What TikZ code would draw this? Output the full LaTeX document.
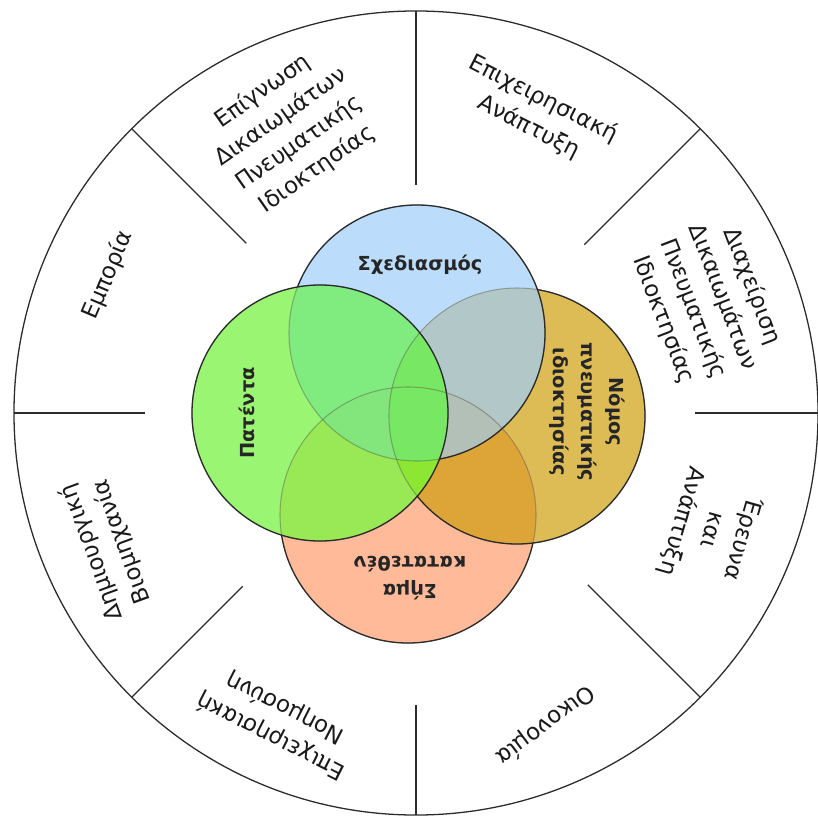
\documentclass[tikz,border=0pt]{standalone}
\usepackage{fontspec}
\setmainfont{DejaVu Sans}
\usetikzlibrary{calc}
% region colours of the four-set diagram
\definecolor{cBlue}{HTML}{BBDDFB}
\definecolor{cGreen}{HTML}{9AF572}
\definecolor{cGold}{HTML}{DDBB55}
\definecolor{cSalmon}{HTML}{FFBB99}
\definecolor{cBG}{HTML}{80EC80}
\definecolor{cBO}{HTML}{B2C8C8}
\definecolor{cGS}{HTML}{99E855}
\definecolor{cOS}{HTML}{DDA537}
\definecolor{cGO}{HTML}{8CE25A}
\definecolor{cBGO}{HTML}{78E864}
\definecolor{cBGS}{HTML}{82E67C}
\definecolor{cBOS}{HTML}{B2C0B8}
\definecolor{cGOS}{HTML}{8CE632}
\definecolor{cAll}{HTML}{78E864}
\definecolor{cLine}{HTML}{2B2B2B}
\begin{document}
\begin{tikzpicture}[x=0.03cm,y=-0.03cm,
  ring/.style={draw=cLine, line width=1.1pt},
  setedge/.style={draw=cLine, line width=1.1pt},
  setseam/.style={draw=black!70, line width=0.9pt, draw opacity=0.4},
  outerlabel/.style={align=center, inner sep=0pt, text=black!90,
    font=\fontsize{19.5}{27}\selectfont},
  innerlabel/.style={align=center, inner sep=0pt, text=black!85,
    font=\bfseries\fontsize{16.5}{24}\selectfont}]
\useasboundingbox (0,0) rectangle (817,821);
\def\vr{3.84cm}
% clockwise frame; with a counter-clockwise circle it leaves a hole
\def\frm{(-50,900) -- (-50,-50) -- (900,-50) -- (900,900) -- cycle}

\coordinate (o) at (416,413);
\coordinate (cb) at (417,333);
\coordinate (cg) at (320,413);
\coordinate (co) at (517,416);
\coordinate (cs) at (408,515);

% outer ring with its eight dividers
\draw[ring] (o) circle[radius=12.06cm];
\foreach \a/\r in {90/6.84, 45/7.14, 0/8.37, -45/7.29, -90/8.76, -135/7.35, 180/8.13, 135/7.2}{
  \draw[ring] ($(o)+(\a:\r cm)$) -- ($(o)+(\a:12.06cm)$);
}

% single sets
\fill[cBlue]   (cb) circle[radius=\vr];
\fill[cGold]   (co) circle[radius=\vr];
\fill[cSalmon] (cs) circle[radius=\vr];
\fill[cGreen]  (cg) circle[radius=\vr];

% pairwise overlaps
\begin{scope}\clip (cb) circle[radius=\vr]; \fill[cBO] (co) circle[radius=\vr];\end{scope}
\begin{scope}\clip (cb) circle[radius=\vr]; \fill[cBG] (cg) circle[radius=\vr];\end{scope}
\begin{scope}\clip (co) circle[radius=\vr]; \fill[cOS] (cs) circle[radius=\vr];\end{scope}
\begin{scope}\clip (cg) circle[radius=\vr]; \fill[cGS] (cs) circle[radius=\vr];\end{scope}
\begin{scope}\clip (cg) circle[radius=\vr]; \fill[cGO] (co) circle[radius=\vr];\end{scope}

% triple overlaps
\begin{scope}\clip (cb) circle[radius=\vr]; \clip (cg) circle[radius=\vr]; \fill[cBGO] (co) circle[radius=\vr];\end{scope}
\begin{scope}\clip (cb) circle[radius=\vr]; \clip (cg) circle[radius=\vr]; \fill[cBGS] (cs) circle[radius=\vr];\end{scope}
\begin{scope}\clip (cb) circle[radius=\vr]; \clip (co) circle[radius=\vr]; \fill[cBOS] (cs) circle[radius=\vr];\end{scope}
\begin{scope}\clip (cg) circle[radius=\vr]; \clip (co) circle[radius=\vr]; \fill[cGOS] (cs) circle[radius=\vr];\end{scope}
\begin{scope}\clip (cb) circle[radius=\vr]; \clip (cg) circle[radius=\vr]; \clip (co) circle[radius=\vr]; \fill[cAll] (cs) circle[radius=\vr];\end{scope}

% faint seams where a circle lies under a later one
\foreach \c in {cb,cg,co,cs}{ \draw[setseam] (\c) circle[radius=\vr]; }

% stacking order salmon, gold, blue, green: each edge is dark
% wherever no later circle covers it
\draw[setedge] (cg) circle[radius=\vr];
\begin{scope}[even odd rule]
  \clip \frm (cg) circle[radius=\vr];
  \draw[setedge] (cb) circle[radius=\vr];
\end{scope}
\begin{scope}[even odd rule]
  \clip \frm (cg) circle[radius=\vr];
  \clip \frm (cb) circle[radius=\vr];
  \draw[setedge] (co) circle[radius=\vr];
\end{scope}
\begin{scope}[even odd rule]
  \clip \frm (cg) circle[radius=\vr];
  \clip \frm (cb) circle[radius=\vr];
  \clip \frm (co) circle[radius=\vr];
  \draw[setedge] (cs) circle[radius=\vr];
\end{scope}

% labels of the four sets
\node[innerlabel] (lb) at (420,265) {Σχεδιασμός};
\node[innerlabel, rotate=90] (lg) at (247,413) {Πατέντα};
\node[innerlabel, rotate=-90] (lo) at (587,412) {Νόμος\\πνευματικής\\ιδιοκτησίας};
\node[innerlabel, rotate=180] (ls) at (410,578) {Σήμα\\κατατεθέν};

% labels of the ring sectors
\node[outerlabel, rotate=67] (t1) at (108,275) {Εμπορία};
\node[outerlabel, rotate=35] (t2) at (290,130) {Επίγνωση\\Δικαιωμάτων\\Πνευματικής\\Ιδιοκτησίας};
\node[outerlabel, rotate=-27] (t3) at (536,113) {Επιχειρησιακή\\Ανάπτυξη};
\node[outerlabel, rotate=-69] (t4) at (708,303) {Διαχείριση\\Δικαιωμάτων\\Πνευματικής\\Ιδιοκτησίας};
\node[outerlabel, rotate=-106] (t5) at (712,530) {Έρευνα\\και\\Ανάπτυξη};
\node[outerlabel, rotate=-143] (t6) at (545,725) {Οικονομία};
\node[outerlabel, rotate=153] (t7) at (278,722) {Επιχειρησιακή\\Νοημοσύνη};
\node[outerlabel, rotate=110] (t8) at (107,547) {Δημιουργική\\Βιομηχανία};
\end{tikzpicture}
\end{document}
